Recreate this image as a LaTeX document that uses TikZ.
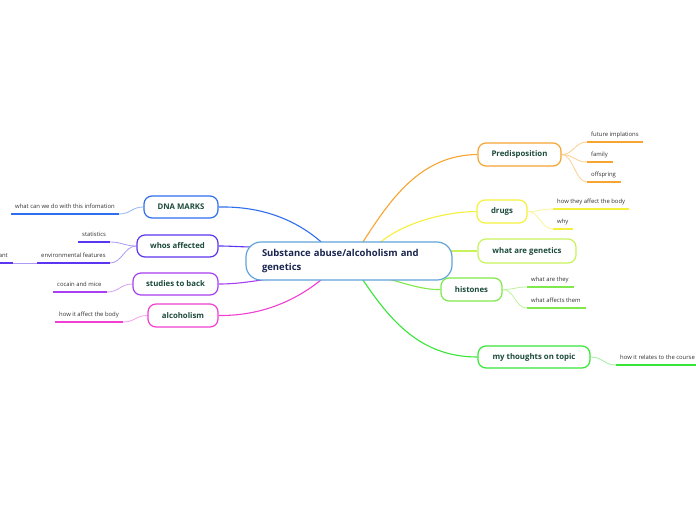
\documentclass[tikz,border=0pt]{standalone}
\usepackage{fontspec}
\setmainfont{Open Sans}
\usetikzlibrary{backgrounds}
\definecolor{cblue}{HTML}{62A3D9}
\definecolor{ctext}{HTML}{1A2550}
\definecolor{labc}{HTML}{1C4A3C}
\definecolor{subc}{HTML}{333333}
\definecolor{orng}{HTML}{F7A532}\definecolor{orngl}{HTML}{FCD08F}
\definecolor{yell}{HTML}{F5F03C}\definecolor{yelll}{HTML}{F9F598}
\definecolor{ygrn}{HTML}{C8F35A}
\definecolor{hgrn}{HTML}{7FE84A}\definecolor{hgrnl}{HTML}{BDF59C}
\definecolor{tgrn}{HTML}{38E638}\definecolor{tgrnl}{HTML}{9CF29C}
\definecolor{dblu}{HTML}{2F6FEF}\definecolor{dblul}{HTML}{97B7F7}
\definecolor{wpur}{HTML}{5B35EF}\definecolor{wpurl}{HTML}{AD9AF7}
\definecolor{spur}{HTML}{A83FF0}\definecolor{spurl}{HTML}{D49FF7}
\definecolor{amag}{HTML}{F03FD2}\definecolor{amagl}{HTML}{F79FE8}
\newcommand\subnode[6]{%
  \node[subt] (#1) at (#2,#3) {#6};
  \coordinate (#1-e) at ([xshift=#4pt]#1.south west);
  \draw[ul,#5] (#1.south west) -- (#1-e);
}
\begin{document}
\begin{tikzpicture}[x=1pt,y=-1pt,
  topic/.style={draw, rounded corners=8pt, line width=1.2pt, fill=white, text=labc,
    font=\fontsize{7.8}{9}\selectfont\bfseries, inner sep=0pt},
  central/.style={draw=cblue, rounded corners=15pt, line width=1.2pt, fill=white, text=ctext,
    font=\fontsize{9.5}{14}\selectfont\bfseries, inner sep=0pt, text width=174pt, align=left,
    minimum width=206pt, minimum height=38pt},
  subt/.style={anchor=south west, inner xsep=4pt, inner ysep=5pt, text depth=0pt,
    font=\fontsize{5.9}{7}\selectfont, text=subc},
  ul/.style={line width=1.2pt},
  mc/.style={line width=1.1pt},
  lc/.style={line width=0.8pt}]
\useasboundingbox (0,0) rectangle (696,520);
\begin{scope}[on background layer]
\fill[white] (0,0) rectangle (696,520);
\end{scope}

% central
\node[central] (c) at (349,261) {Substance abuse/alcoholism and\\genetics};

% right topics
\node[topic, draw=orng, minimum width=83pt, minimum height=23pt] (pre) at (519.5,154.5) {Predisposition};
\node[topic, draw=yell, minimum width=50pt, minimum height=23pt] (drg) at (502,211.5) {drugs};
\node[topic, draw=ygrn, minimum width=98pt, minimum height=24pt] (gen) at (527,251) {what are genetics};
\node[topic, draw=hgrn, minimum width=61pt, minimum height=23pt] (his) at (471.5,289.5) {histones};
\node[topic, draw=tgrn, minimum width=112pt, minimum height=22pt] (my) at (534,357) {my thoughts on topic};

% left topics
\node[topic, draw=dblu, minimum width=74pt, minimum height=22pt] (dna) at (181,207) {DNA MARKS};
\node[topic, draw=wpur, minimum width=81pt, minimum height=22pt] (who) at (177.5,246) {whos affected};
\node[topic, draw=spur, minimum width=85pt, minimum height=22pt] (stu) at (175.5,284) {studies to back};
\node[topic, draw=amag, minimum width=70pt, minimum height=23pt] (alc) at (183,315.5) {alcoholism};

% subtopics
\subnode{fi}{587}{142}{56}{orng}{future implations}
\subnode{fa}{587}{162}{26}{orng}{family}
\subnode{of}{587}{182}{34}{orng}{offspring}
\subnode{d1}{553}{209}{76}{yell}{how they affect the body}
\subnode{d2}{553}{229}{20}{yell}{why}
\subnode{h1}{527}{287}{47}{hgrn}{what are they}
\subnode{h2}{527}{308}{59}{hgrn}{what affects them}
\subnode{m1}{616}{365}{80}{tgrn}{how it relates to the course}
\subnode{n1}{11}{214}{108}{dblu}{what can we do with this infomation}
\subnode{w1}{78}{242}{32}{wpur}{statistics}
\subnode{w2}{37}{263}{73}{wpur}{environmental features}
\node[subt, anchor=south east, inner xsep=0pt] (ant) at (8,263) {ant};
\coordinate (ant-e) at (13,263);
\coordinate (ant-w) at (0,263);
\draw[ul,wpur] (ant-w) -- (ant-e);
\subnode{s1}{53}{292}{54}{spur}{cocain and mice}
\subnode{a1}{55}{322}{68}{amag}{how it affect the body}

\begin{scope}[on background layer]
% main connectors
\draw[mc,orng] ([xshift=13pt,yshift=-2pt]c.north) .. controls (390,200) and (420,155) .. (pre.west);
\draw[mc,yell] ([xshift=30pt,yshift=-2pt]c.north) .. controls (400,225) and (440,212) .. (drg.west);
\draw[mc,ygrn] ([yshift=10pt,xshift=-5pt]c.east) -- (gen.west);
\draw[mc,hgrn] ([xshift=38pt,yshift=2pt]c.south) .. controls (410,285) and (425,290) .. (his.west);
\draw[mc,tgrn] ([xshift=13pt,yshift=2pt]c.south) .. controls (390,320) and (420,357) .. (my.west);
\draw[mc,dblu] (dna.east) .. controls (265,206) and (300,222) .. ([xshift=-24pt,yshift=-4pt]c.north);
\draw[mc,wpur] (who.east) .. controls (232,246) and (240,247) .. ([xshift=10pt,yshift=14pt]c.west);
\draw[mc,spur] (stu.east) .. controls (245,284) and (260,279) .. ([xshift=-64pt,yshift=3pt]c.south);
\draw[mc,amag] (alc.east) .. controls (265,316) and (300,298) .. ([xshift=-24pt,yshift=4pt]c.south);
% sub connectors
\foreach \s in {fi,fa,of} \draw[lc,orngl] (pre.east) .. controls +(12,0) and +(-12,0) .. (\s.south west);
\foreach \s in {d1,d2} \draw[lc,yelll] (drg.east) .. controls +(12,0) and +(-12,0) .. (\s.south west);
\foreach \s in {h1,h2} \draw[lc,hgrnl] (his.east) .. controls +(12,0) and +(-12,0) .. (\s.south west);
\draw[lc,tgrnl] (my.east) .. controls +(12,0) and +(-12,0) .. (m1.south west);
\draw[lc,dblul] (dna.west) .. controls +(-12,0) and +(12,0) .. (n1-e);
\foreach \s in {w1,w2} \draw[lc,wpurl] (who.west) .. controls +(-12,0) and +(12,0) .. (\s-e);
\draw[lc,wpurl] (w2.south west) -- (ant-e);
\draw[lc,spurl] (stu.west) .. controls +(-12,0) and +(12,0) .. (s1-e);
\draw[lc,amagl] (alc.west) .. controls +(-12,0) and +(12,0) .. (a1-e);
\end{scope}
\end{tikzpicture}
\end{document}
